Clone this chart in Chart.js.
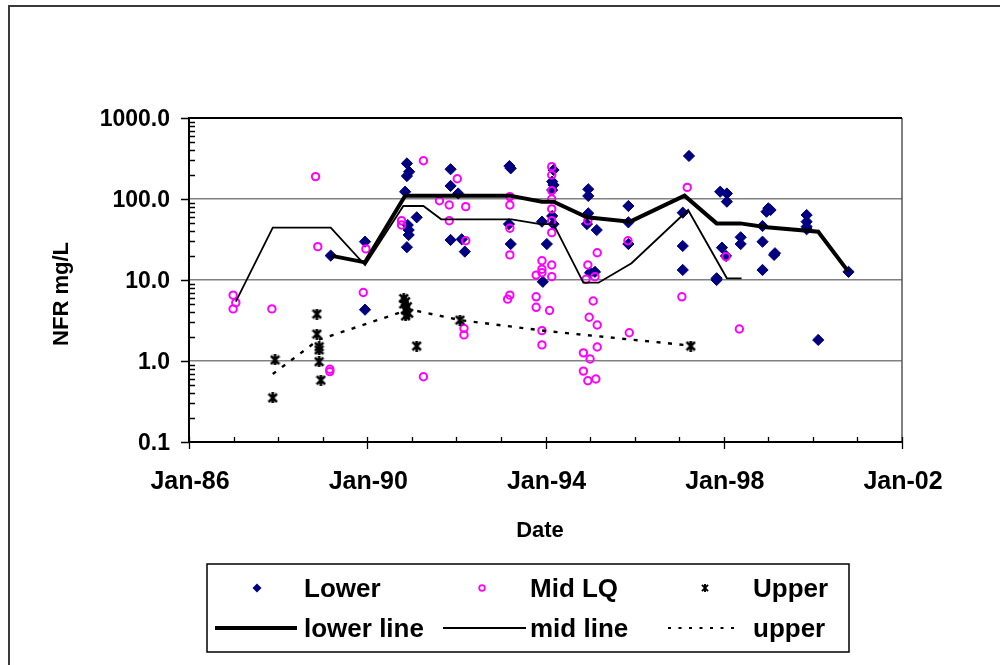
<!DOCTYPE html>
<html>
<head>
<meta charset="utf-8">
<script src="https://cdn.jsdelivr.net/npm/chart.js@4.4.1/dist/chart.umd.min.js"></script>
<style>
  html, body { margin: 0; padding: 0; background: #fff; }
  canvas { display: block; }
</style>
</head>
<body>
<canvas id="nfr" width="1000" height="665"></canvas>
<script>
// Axis ticks
const xTickYears  = [1986, 1990, 1994, 1998, 2002];
const xTickLabels = ['Jan-86', 'Jan-90', 'Jan-94', 'Jan-98', 'Jan-02'];
const yTickValues = [0.1, 1, 10, 100, 1000];
const yTickLabels = ['0.1', '1.0', '10.0', '100.0', '1000.0'];

const seriesNames = ['Lower', 'Mid LQ', 'Upper', 'lower line', 'mid line', 'upper'];

// Sample dates (decimal years) and NFR (mg/L)
const lowerDates = [1989.18, 1989.95, 1989.95, 1990.89, 1990.94, 1990.89, 1990.85, 1990.91, 1990.93, 1990.93,
  1990.89, 1991.11, 1991.87, 1991.87, 1992.04, 1991.87, 1992.12, 1992.19, 1993.19, 1993.22,
  1993.18, 1993.22, 1993.92, 1994.03, 1993.94, 1994.18, 1994.15, 1994.18, 1994.15, 1994.15,
  1994.18, 1994.96, 1994.96, 1994.96, 1994.93, 1995.15, 1995.00, 1995.11, 1995.86, 1995.86,
  1995.86, 1997.08, 1997.08, 1997.08, 1997.22, 1997.92, 1998.07, 1998.07, 1997.96, 1998.05,
  1997.84, 1997.84, 1998.38, 1998.38, 1998.87, 1998.87, 1998.87, 1998.96, 1999.05, 1999.00,
  1999.15, 1999.13, 1999.86, 1999.86, 1999.86, 1999.86, 2000.12, 2000.80];
const lowerNFR = [20, 29.7, 4.3, 275, 217, 192, 123, 47.7, 41.4, 36,
  25.4, 59.4, 233, 145, 117, 31.2, 31.8, 22.4, 255, 239,
  49, 27.8, 52.5, 27.8, 9.5, 228, 164, 149, 129, 61.7,
  49, 132, 109, 66.5, 49, 41.4, 12.3, 12.6, 82, 51.5,
  27.8, 67.8, 26.3, 13.3, 340, 123, 117, 92.7, 25.1, 19.8,
  10.5, 10, 33.7, 27.8, 46.4, 29.7, 13.3, 69.7, 73.1, 76.8,
  21.4, 20.4, 63.4, 52.5, 45.5, 42.3, 1.82, 12.6];

const midDates = [1986.99, 1987.05, 1986.99, 1987.86, 1988.84, 1988.89, 1989.16, 1989.16, 1989.91, 1989.97,
  1990.77, 1990.77, 1991.26, 1991.26, 1992.02, 1991.62, 1991.84, 1992.21, 1991.84, 1992.21,
  1992.17, 1992.17, 1993.20, 1993.20, 1993.20, 1993.20, 1993.20, 1993.15, 1993.92, 1993.92,
  1993.92, 1993.79, 1994.14, 1994.14, 1993.79, 1993.79, 1994.09, 1993.92, 1993.92, 1994.14,
  1994.14, 1994.14, 1994.14, 1994.14, 1994.14, 1994.14, 1994.95, 1995.16, 1994.95, 1994.91,
  1995.11, 1995.07, 1994.98, 1995.16, 1995.16, 1994.85, 1995.00, 1994.85, 1994.95, 1995.13,
  1995.85, 1995.88, 1997.18, 1997.06, 1998.05, 1998.35];
const midNFR = [6.5, 5.25, 4.4, 4.4, 189, 25.8, 0.79, 0.74, 7.0, 24.2,
  54, 47.7, 297, 0.64, 178, 95.3, 84.4, 80.4, 54, 30.5,
  2.53, 2.1, 107, 84.4, 43.5, 20.4, 6.5, 5.8, 17.3, 13.6,
  12.3, 11.5, 15.3, 11, 6.2, 4.6, 4.2, 2.37, 1.58, 251,
  198, 127, 100, 75.4, 54, 38.4, 54, 21.7, 15.3, 10.2,
  11, 5.5, 3.47, 2.78, 1.49, 1.26, 1.06, 0.75, 0.57, 0.60,
  30.5, 2.23, 139, 6.2, 19.4, 2.48];

const upperDates = [1987.88, 1987.93, 1988.87, 1988.87, 1988.92, 1988.92, 1988.92, 1988.96,
  1990.82, 1990.86, 1990.82, 1990.90, 1990.86, 1990.93, 1990.86, 1991.11, 1992.08, 1997.26];
const upperNFR = [0.35, 1.03, 3.8, 2.15, 1.50, 1.37, 0.98, 0.58,
  5.9, 5.4, 5.06, 4.69, 4.27, 3.88, 3.6, 1.53, 3.2, 1.53];

// Trend lines
const lowerLineDates = [1989.18, 1989.95, 1990.85, 1993.20, 1993.92, 1994.18, 1994.93, 1995.90, 1997.12, 1997.84, 1998.37, 1998.96, 2000.12, 2000.80];
const lowerLineNFR   = [20, 16.5, 110, 110, 92.7, 92.7, 59.4, 52.5, 110, 50, 50, 44.8, 39.5, 12.6];

const midLineDates = [1987.05, 1987.88, 1989.18, 1989.95, 1990.81, 1991.26, 1991.66, 1993.24, 1993.88, 1994.18, 1994.85, 1995.19, 1995.93, 1997.20, 1998.07, 1998.40];
const midLineNFR   = [5.4, 44.2, 44.2, 15.3, 82, 82, 56.1, 56.1, 49.1, 49, 9.27, 9.27, 16.1, 73.1, 10.5, 10.5];

const upperLineDates = [1987.88, 1988.90, 1990.95, 1992.08, 1994.03, 1997.26];
const upperLineNFR   = [0.69, 1.82, 4.34, 3.2, 2.34, 1.55];

const pairs = (xs, ys) => xs.map((x, i) => ({ x, y: ys[i] }));

// Asterisk marker (X with a vertical bar)
function asterisk(size, lw) {
  const c = document.createElement('canvas');
  c.width = size; c.height = size;
  const g = c.getContext('2d');
  g.strokeStyle = '#000';
  g.lineWidth = lw;
  g.lineCap = 'butt';
  const m = lw / 2, s = size - lw / 2;
  g.beginPath();
  g.moveTo(m, m); g.lineTo(s, s);
  g.moveTo(s, m); g.lineTo(m, s);
  g.moveTo(size / 2, 0); g.lineTo(size / 2, size);
  g.stroke();
  return c;
}
const starMark = asterisk(11, 2.6);
const starMarkSmall = asterisk(8, 1.9);

const FONT = '"Liberation Sans", Arial, sans-serif';
const NAVY = '#000080';
const MAGENTA = '#FF00FF';

const decor = {
  id: 'decor',
  beforeDraw(chart) {
    const ctx = chart.ctx;
    ctx.save();
    ctx.fillStyle = '#fff';
    ctx.fillRect(0, 0, chart.width, chart.height);
    ctx.restore();
  },
  afterDraw(chart) {
    const { ctx, chartArea: a, scales: { x, y } } = chart;
    ctx.save();

    // outer chart border
    ctx.strokeStyle = '#3a3a3a';
    ctx.lineWidth = 2;
    ctx.beginPath();
    ctx.moveTo(9, 700); ctx.lineTo(9, 6); ctx.lineTo(1100, 6);
    ctx.stroke();

    // plot frame
    ctx.strokeStyle = '#555';
    ctx.lineWidth = 1.5;
    ctx.beginPath();
    ctx.moveTo(a.right, a.top); ctx.lineTo(a.right, a.bottom);
    ctx.stroke();
    ctx.strokeStyle = '#000';
    ctx.lineWidth = 2;
    ctx.beginPath();
    ctx.moveTo(a.left, a.top); ctx.lineTo(a.right, a.top);
    ctx.moveTo(a.left, a.top - 1); ctx.lineTo(a.left, a.bottom + 1);
    ctx.moveTo(a.left - 1, a.bottom); ctx.lineTo(a.right + 1, a.bottom);
    ctx.stroke();

    // y tick marks: decades outside, 2..9 inside
    ctx.strokeStyle = '#000';
    ctx.lineWidth = 1.3;
    ctx.beginPath();
    yTickValues.forEach(v => {
      const py = Math.round(y.getPixelForValue(v)) + 0.5;
      ctx.moveTo(a.left - 8, py); ctx.lineTo(a.left, py);
    });
    for (let d = 0; d < yTickValues.length - 1; d++) {
      for (let k = 2; k <= 9; k++) {
        const py = Math.round(y.getPixelForValue(yTickValues[d] * k)) + 0.5;
        ctx.moveTo(a.left, py); ctx.lineTo(a.left + 6, py);
      }
    }
    // x tick marks: years inside, labelled years crossing
    for (let yr = xTickYears[0]; yr <= xTickYears[xTickYears.length - 1]; yr++) {
      const px = Math.round(x.getPixelForValue(yr)) + 0.5;
      const major = xTickYears.includes(yr);
      ctx.moveTo(px, a.bottom - 5);
      ctx.lineTo(px, a.bottom + (major ? 7 : 0));
    }
    ctx.stroke();

    // tick labels
    ctx.fillStyle = '#000';
    ctx.font = 'bold 23px ' + FONT;
    ctx.textAlign = 'right';
    ctx.textBaseline = 'alphabetic';
    yTickValues.forEach((v, i) => {
      ctx.fillText(yTickLabels[i], 170, y.getPixelForValue(v) + 8.3);
    });
    ctx.font = 'bold 25px ' + FONT;
    ctx.textAlign = 'center';
    xTickYears.forEach((v, i) => {
      ctx.fillText(xTickLabels[i], x.getPixelForValue(v) + 1, 489);
    });

    // axis titles
    ctx.font = 'bold 22px ' + FONT;
    ctx.fillText('Date', 540, 537);
    ctx.save();
    ctx.translate(68, 294);
    ctx.rotate(-Math.PI / 2);
    ctx.fillText('NFR mg/L', 0, 0);
    ctx.restore();

    // legend
    const box = { l: 207, t: 564, r: 849, b: 652 };
    ctx.strokeStyle = '#000';
    ctx.lineWidth = 1.5;
    ctx.strokeRect(box.l, box.t, box.r - box.l, box.b - box.t);

    const textX = [304, 530, 753];
    const rowY = [588, 628];
    const ds = chart.data.datasets;
    ctx.font = 'bold 26px ' + FONT;
    ctx.textAlign = 'left';
    for (let i = 0; i < 3; i++) {
      ctx.fillStyle = '#000';
      ctx.fillText(ds[i].label, textX[i], rowY[0] + 9);
      ctx.fillText(ds[i + 3].label, textX[i], rowY[1] + 9);
    }
    // markers
    const mx = [257, 482, 705];
    ctx.fillStyle = NAVY;
    ctx.beginPath();
    ctx.moveTo(mx[0] - 4.5, rowY[0]); ctx.lineTo(mx[0], rowY[0] - 4.5);
    ctx.lineTo(mx[0] + 4.5, rowY[0]); ctx.lineTo(mx[0], rowY[0] + 4.5);
    ctx.closePath(); ctx.fill();
    ctx.strokeStyle = MAGENTA;
    ctx.lineWidth = 1.7;
    ctx.beginPath();
    ctx.arc(mx[1], rowY[0], 2.8, 0, Math.PI * 2);
    ctx.stroke();
    ctx.drawImage(starMarkSmall, mx[2] - 4, rowY[0] - 4, 8, 8);
    // line samples
    ctx.strokeStyle = '#000';
    ctx.lineWidth = ds[3].borderWidth;
    ctx.beginPath(); ctx.moveTo(215, rowY[1]); ctx.lineTo(297, rowY[1]); ctx.stroke();
    ctx.lineWidth = ds[4].borderWidth;
    ctx.beginPath(); ctx.moveTo(443, rowY[1]); ctx.lineTo(526, rowY[1]); ctx.stroke();
    ctx.lineWidth = 2;
    ctx.setLineDash([3, 7.5]);
    ctx.beginPath(); ctx.moveTo(668, rowY[1]); ctx.lineTo(737, rowY[1]); ctx.stroke();
    ctx.setLineDash([]);

    ctx.restore();
  }
};

new Chart(document.getElementById('nfr'), {
  type: 'scatter',
  data: {
    datasets: [
      { label: seriesNames[0], data: pairs(lowerDates, lowerNFR), order: 6,
        pointStyle: 'rectRot', pointRadius: 5.6, backgroundColor: NAVY, borderColor: NAVY, borderWidth: 1 },
      { label: seriesNames[1], data: pairs(midDates, midNFR), order: 5,
        pointStyle: 'circle', pointRadius: 3.7, backgroundColor: 'rgba(0,0,0,0)', borderColor: MAGENTA, borderWidth: 2 },
      { label: seriesNames[2], data: pairs(upperDates, upperNFR), order: 4,
        pointStyle: starMark, pointRadius: 5.5, backgroundColor: '#000', borderColor: '#000' },
      { label: seriesNames[3], data: pairs(lowerLineDates, lowerLineNFR), order: 3,
        showLine: true, pointRadius: 0, borderColor: '#000', borderWidth: 4, tension: 0 },
      { label: seriesNames[4], data: pairs(midLineDates, midLineNFR), order: 2,
        showLine: true, pointRadius: 0, borderColor: '#000', borderWidth: 1.8, tension: 0 },
      { label: seriesNames[5], data: pairs(upperLineDates, upperLineNFR), order: 1,
        showLine: true, pointRadius: 0, borderColor: '#000', borderWidth: 2.4, borderDash: [4, 7.5], tension: 0 }
    ]
  },
  options: {
    responsive: false,
    animation: false,
    devicePixelRatio: 1,
    layout: { padding: { top: 118, right: 98, bottom: 0, left: 0 } },
    plugins: { legend: { display: false }, tooltip: { enabled: false } },
    scales: {
      x: {
        type: 'linear',
        min: xTickYears[0],
        max: xTickYears[xTickYears.length - 1],
        afterBuildTicks: s => { s.ticks = xTickYears.map(v => ({ value: v })); },
        afterFit: s => { s.height = 223; },
        ticks: { display: false },
        grid: { display: false },
        border: { display: false }
      },
      y: {
        type: 'logarithmic',
        min: yTickValues[0],
        max: yTickValues[yTickValues.length - 1],
        afterBuildTicks: s => { s.ticks = yTickValues.map(v => ({ value: v })); },
        afterFit: s => { s.width = 189; },
        ticks: { display: false },
        grid: {
          drawTicks: false,
          lineWidth: 1.5,
          color: c => (c.tick && c.tick.value > yTickValues[0] && c.tick.value < yTickValues[yTickValues.length - 1]) ? '#808080' : 'rgba(0,0,0,0)'
        },
        border: { display: false }
      }
    }
  },
  plugins: [decor]
});
</script>
</body>
</html>
